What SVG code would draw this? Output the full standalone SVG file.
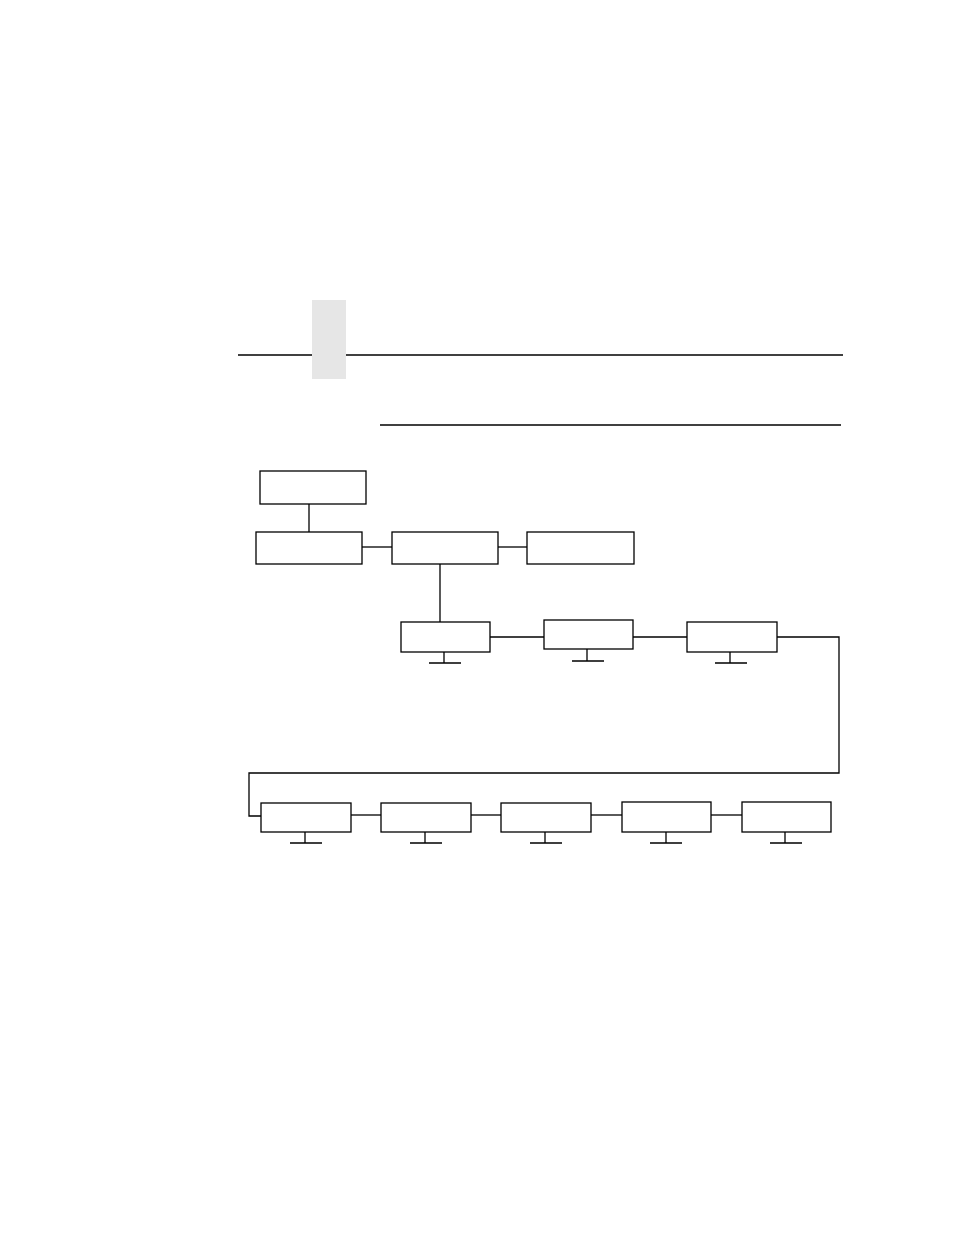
<svg xmlns="http://www.w3.org/2000/svg" width="954" height="1235" viewBox="0 0 954 1235">
<style>
.box{fill:#fff;stroke:#000;stroke-width:1.3}
.ln{fill:none;stroke:#000;stroke-width:1.3}
</style>
<rect width="954" height="1235" fill="#fff"/>
<g id="header">
<rect x="312" y="300" width="34" height="79" fill="#e6e6e6"/>
<line class="ln" x1="238" y1="355" x2="312" y2="355"/>
<line class="ln" x1="346" y1="355" x2="843" y2="355"/>
<line class="ln" x1="380" y1="425" x2="841" y2="425"/>
</g>
<g id="connectors">
<line class="ln" x1="309" y1="504" x2="309" y2="532"/>
<line class="ln" x1="362" y1="547" x2="392" y2="547"/>
<line class="ln" x1="498" y1="547" x2="527" y2="547"/>
<line class="ln" x1="440" y1="564" x2="440" y2="622"/>
<line class="ln" x1="490" y1="637" x2="544" y2="637"/>
<line class="ln" x1="633" y1="637" x2="687" y2="637"/>
<polyline class="ln" points="777,637 839,637 839,773 249,773 249,816 261,816"/>
<line class="ln" x1="351" y1="815" x2="381" y2="815"/>
<line class="ln" x1="471" y1="815" x2="501" y2="815"/>
<line class="ln" x1="591" y1="815" x2="622" y2="815"/>
<line class="ln" x1="711" y1="815" x2="742" y2="815"/>
</g>
<g id="n1"><rect class="box" x="260" y="471" width="106" height="33"/></g>
<g id="n2"><rect class="box" x="256" y="532" width="106" height="32"/></g>
<g id="n3"><rect class="box" x="392" y="532" width="106" height="32"/></g>
<g id="n4"><rect class="box" x="527" y="532" width="107" height="32"/></g>
<g id="n5"><rect class="box" x="401" y="622" width="89" height="30"/><path class="ln" d="M444,652V663M429,663H461"/></g>
<g id="n6"><rect class="box" x="544" y="620" width="89" height="29"/><path class="ln" d="M587,649V661M572,661H604"/></g>
<g id="n7"><rect class="box" x="687" y="622" width="90" height="30"/><path class="ln" d="M730,652V663M715,663H747"/></g>
<g id="n8"><rect class="box" x="261" y="803" width="90" height="29"/><path class="ln" d="M305,832V843M290,843H322"/></g>
<g id="n9"><rect class="box" x="381" y="803" width="90" height="29"/><path class="ln" d="M425,832V843M410,843H442"/></g>
<g id="n10"><rect class="box" x="501" y="803" width="90" height="29"/><path class="ln" d="M545,832V843M530,843H562"/></g>
<g id="n11"><rect class="box" x="622" y="802" width="89" height="30"/><path class="ln" d="M666,832V843M650,843H682"/></g>
<g id="n12"><rect class="box" x="742" y="802" width="89" height="30"/><path class="ln" d="M785,832V843M770,843H802"/></g>
</svg>
